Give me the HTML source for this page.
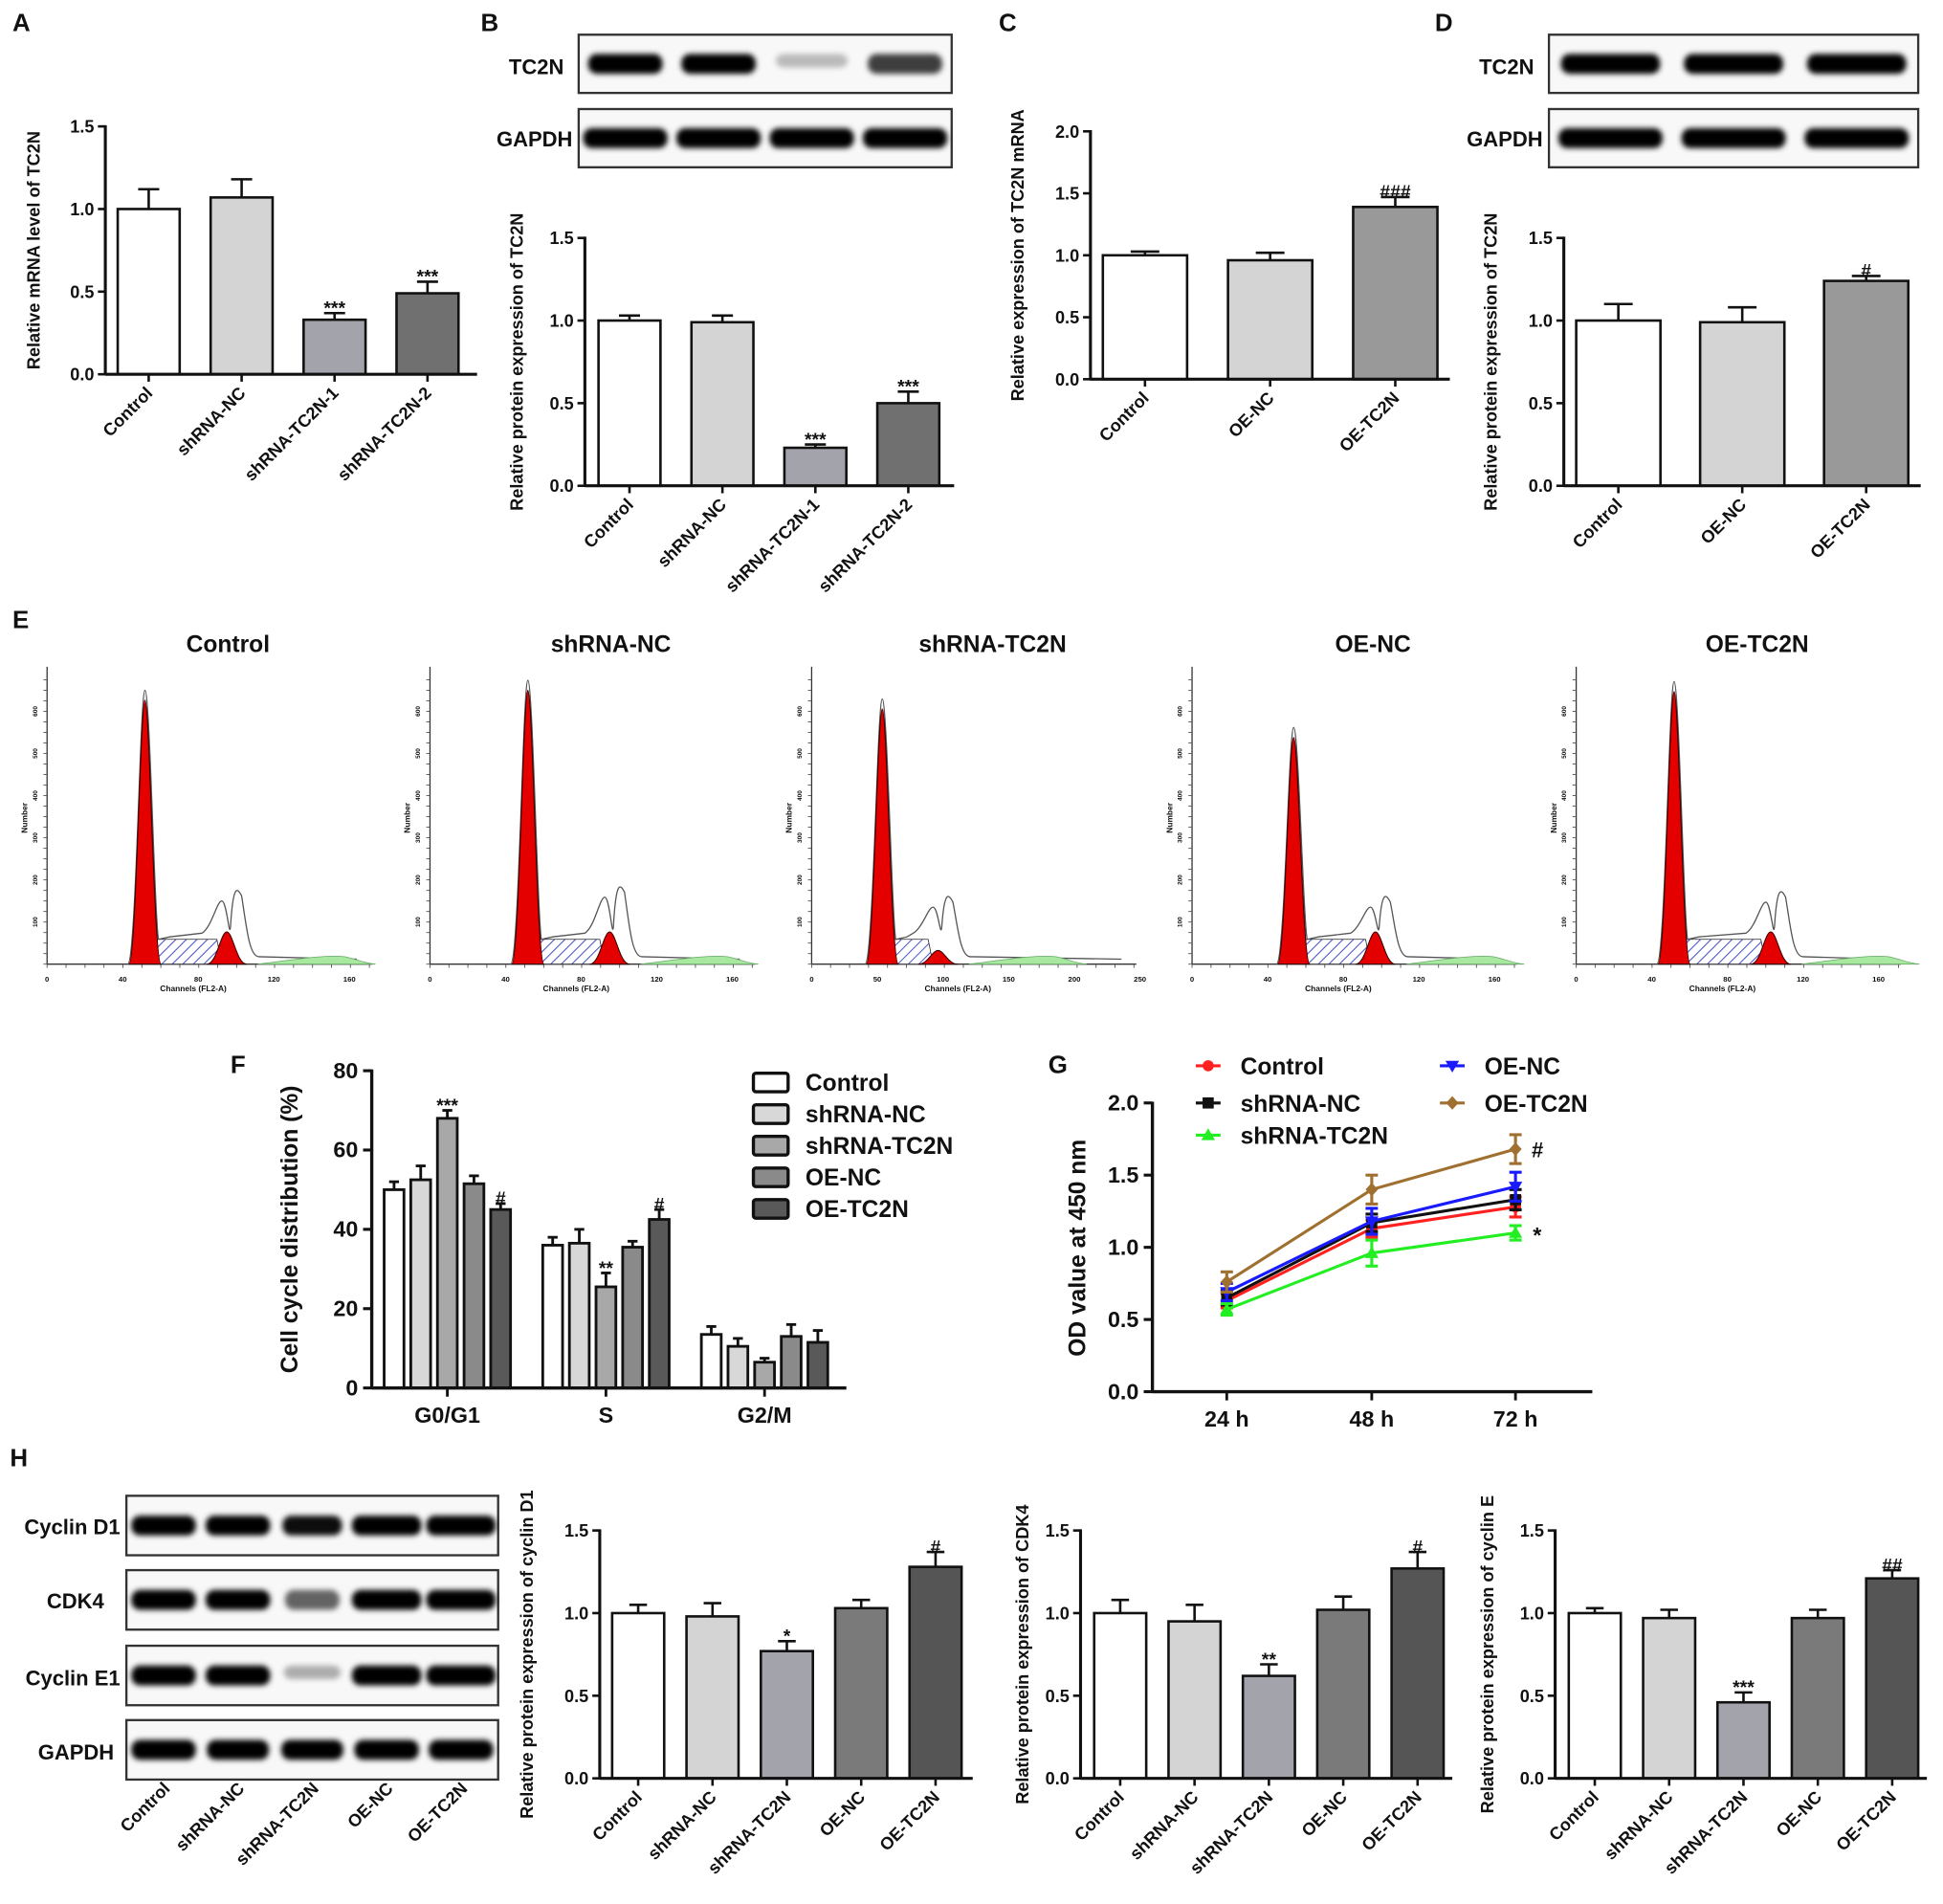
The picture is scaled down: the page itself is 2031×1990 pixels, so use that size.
<!DOCTYPE html>
<html><head><meta charset="utf-8">
<style>
html,body{margin:0;padding:0;background:#fff;}
svg{display:block;}
text{font-family:"Liberation Sans",Arial,sans-serif;font-weight:bold;fill:#111;}
</style></head>
<body>
<svg id="fig" xmlns="http://www.w3.org/2000/svg" width="2031" height="1990" viewBox="0 0 1568 1536.4" preserveAspectRatio="none">
<defs>
<filter id="blur" x="-20%" y="-50%" width="140%" height="200%"><feGaussianBlur stdDeviation="2.2"/></filter>
<pattern id="hatch" width="6" height="6" patternUnits="userSpaceOnUse" patternTransform="rotate(45)">
<rect width="6" height="6" fill="#fff"/><line x1="0" y1="0" x2="0" y2="6" stroke="#4a55c8" stroke-width="1.6"/></pattern>
</defs>
</svg>
<script>
// ---------- data ----------
const catsA = ["Control","shRNA-NC","shRNA-TC2N-1","shRNA-TC2N-2"];
const valsA = [1.0,1.07,0.33,0.49];
const errA = [0.12,0.11,0.04,0.07];
const marksA = ["","","***","***"];
const valsB = [1.0,0.99,0.23,0.50];
const errB = [0.03,0.04,0.02,0.07];
const marksB = ["","","***","***"];
const catsC = ["Control","OE-NC","OE-TC2N"];
const valsC = [1.0,0.96,1.39];
const errC = [0.03,0.06,0.08];
const marksC = ["","","###"];
const valsD = [1.0,0.99,1.24];
const errD = [0.10,0.09,0.03];
const marksD = ["","","#"];
const catsH = ["Control","shRNA-NC","shRNA-TC2N","OE-NC","OE-TC2N"];
const valsH1 = [1.0,0.98,0.77,1.03,1.28];
const errH1 = [0.05,0.08,0.06,0.05,0.09];
const marksH1 = ["","","*","","#"];
const valsH2 = [1.0,0.95,0.62,1.02,1.27];
const errH2 = [0.08,0.10,0.07,0.08,0.10];
const marksH2 = ["","","**","","#"];
const valsH3 = [1.0,0.97,0.46,0.97,1.21];
const errH3 = [0.03,0.05,0.06,0.05,0.05];
const marksH3 = ["","","***","","##"];
const ticks15 = [0,0.5,1.0,1.5];
const ticks20 = [0,0.5,1.0,1.5,2.0];
// F
const phasesF = ["G0/G1","S","G2/M"];
const groupsF = ["Control","shRNA-NC","shRNA-TC2N","OE-NC","OE-TC2N"];
const valsF = [[50,52.5,68,51.5,45],[36,36.5,25.5,35.5,42.5],[13.5,10.5,6.5,13,11.5]];
const errF = [[2,3.5,2,2,1.5],[2,3.5,3.5,1.5,2.5],[2,2,1,3,3]];
const marksF = [["","","***","","#"],["","","**","","#"],["","","","",""]];
const ticksF = [0,20,40,60,80];
// G
const timesG = ["24 h","48 h","72 h"];
const seriesG = ["Control","shRNA-NC","shRNA-TC2N","OE-NC","OE-TC2N"];
const valsG = [[0.63,1.13,1.28],[0.65,1.17,1.33],[0.57,0.96,1.10],[0.69,1.18,1.42],[0.76,1.40,1.68]];
const errG = [[0.05,0.06,0.07],[0.05,0.06,0.07],[0.04,0.09,0.05],[0.06,0.09,0.10],[0.07,0.10,0.10]];
// E
const flowTitles = ["Control","shRNA-NC","shRNA-TC2N","OE-NC","OE-TC2N"];

// ---------- helpers ----------
const NS="http://www.w3.org/2000/svg";
const svg=document.getElementById('fig');
function el(tag,attrs,parent,txt){const e=document.createElementNS(NS,tag);for(const k in attrs)e.setAttribute(k,attrs[k]);if(txt!==undefined)e.textContent=txt;(parent||svg).appendChild(e);return e;}
function grp(name,parent){const g=el('g',{},parent);return g;}
const barFills=["#ffffff","#d4d4d4","#a3a3ab","#7a7a7a","#555555"];

function panelLetter(t,x,y){const e=el('text',{x:x,y:y,'font-size':20},svg,t);

}

function barChart(name,o,cats,vals,errs,marks,ticks,fills){
  const g=grp(name);
  const ys=v=>o.y0-(v/o.max)*(o.y0-o.yTop);
  const xs=i=>o.first+i*o.step;
  ticks.forEach(t=>{
    el('line',{x1:o.ax-6,x2:o.ax,y1:ys(t),y2:ys(t),stroke:'#111','stroke-width':2},g);
    const tl=el('text',{x:o.ax-9,y:ys(t)+5,'font-size':o.fs||14,'text-anchor':'end'},g,t.toFixed(1));
    
    
  });
  vals.forEach((v,i)=>{
    const x=xs(i),cx=x+o.w/2;
    const top=ys(v+errs[i]);
    el('line',{x1:cx,x2:cx,y1:ys(v),y2:top,stroke:'#111','stroke-width':2},g);
    el('line',{x1:cx-o.w*0.17,x2:cx+o.w*0.17,y1:top,y2:top,stroke:'#111','stroke-width':2},g);
    const r=el('rect',{x:x,y:ys(v),width:o.w,height:o.y0-ys(v),fill:fills[i],stroke:'#111','stroke-width':2},g);
    
    
    if(marks[i]){const m=el('text',{x:cx,y:top+1,'font-size':15,'text-anchor':'middle','font-weight':'normal'},g,marks[i]);
      
      }
    el('line',{x1:cx,x2:cx,y1:o.y0,y2:o.y0+6,stroke:'#111','stroke-width':2},g);
    const ly=o.y0+16;
    const cl=el('text',{x:cx+4,y:ly,'font-size':o.fs||14,'text-anchor':'end',transform:`rotate(-45 ${cx+4} ${ly})`},g,cats[i]);
    
    
  });
  el('line',{x1:o.ax,x2:o.ax,y1:o.yTop-1,y2:o.y0+1,stroke:'#111','stroke-width':2.4},g);
  el('line',{x1:o.ax,x2:o.xEnd,y1:o.y0,y2:o.y0,stroke:'#111','stroke-width':2.4},g);
  const mid=(o.yTop+o.y0)/2+(o.tOff||0);
  const tt=el('text',{x:o.tx,y:mid,'font-size':14,'text-anchor':'middle',transform:`rotate(-90 ${o.tx} ${mid})`},g,o.title);
  
  
}

function blot(name,x,y,w,h,lanes,intens,widths){
  const g=grp(name);
  el('rect',{x:x,y:y,width:w,height:h,fill:'#f8f8f8',stroke:'#333','stroke-width':1.8},g);
  const lw=w/lanes;
  for(let i=0;i<lanes;i++){
    const cx=x+lw*(i+0.5);
    const a=intens[i];
    el('rect',{x:cx-widths[i]/2,y:y+h/2-8,width:widths[i],height:a>0.5?16:11,rx:7,fill:`rgba(0,0,0,${a})`,filter:'url(#blur)'},g);
  }
}
function blotLabel(t,x,y,anchor){const e=el('text',{x:x,y:y,'font-size':17,'text-anchor':anchor||'end'},svg,t);

}

panelLetter('A',10,25);panelLetter('B',388,25);panelLetter('C',806,25);panelLetter('D',1158,25);
panelLetter('E',10,507);panelLetter('F',186,866);panelLetter('G',846,866);panelLetter('H',8,1183);

// ---------- A ----------
barChart('chart-a',{ax:85,y0:302,yTop:102,max:1.5,first:95,step:75,w:50,xEnd:385,tx:32,title:'Relative mRNA level of TC2N'},catsA,valsA,errA,marksA,ticks15,["#fff","#d4d4d4","#a3a3ab","#707070"]);
// ---------- B ----------
blotLabel('TC2N',455,60);blotLabel('GAPDH',462,118);
blot('blot-b-tc2n',467,28,301,47,4,[1,1,0.25,0.75],[60,60,58,60]);
blot('blot-b-gapdh',467,88,301,47,4,[1,1,1,1],[68,68,68,68]);
barChart('chart-b',{ax:472,y0:392,yTop:192,max:1.5,first:483,step:75,w:50,xEnd:770,tx:422,title:'Relative protein expression of TC2N'},catsA,valsB,errB,marksB,ticks15,["#fff","#d4d4d4","#a3a3ab","#707070"]);
// ---------- C ----------
barChart('chart-c',{ax:880,y0:306,yTop:106,max:2.0,first:890,step:101,w:68,xEnd:1170,tx:826,title:'Relative expression of TC2N mRNA'},catsC,valsC,errC,marksC,ticks20,["#fff","#d4d4d4","#999"]);
// ---------- D ----------
blotLabel('TC2N',1238,60);blotLabel('GAPDH',1245,118);
blot('blot-d-tc2n',1250,28,298,47,3,[1,1,1],[80,80,80]);
blot('blot-d-gapdh',1250,88,298,47,3,[1,1,1],[84,84,84]);
barChart('chart-d',{ax:1262,y0:392,yTop:192,max:1.5,first:1272,step:100,w:68,xEnd:1550,tx:1208,title:'Relative protein expression of TC2N'},catsC,valsD,errD,marksD,ticks15,["#fff","#d4d4d4","#999"]);

// ---------- E flow histograms ----------
const flowAx=[38,347,655,962,1272];
const g1off=[79,79,57,82,79];
const g1top=[565,557,572,595,558];
const g2off=[145,145,102,148,157];
const g2top=[752,752,767,752,752];
const outTop=[715,712,720,720,716];
flowTitles.forEach((t,k)=>{
  const g=grp('flow-histogram-'+t.toLowerCase());
  const x0=flowAx[k],yb=778;
  const tt=el('text',{x:x0+146,y:526,'font-size':19,'text-anchor':'middle'},g,t);
  
  
  el('line',{x1:x0,x2:x0,y1:538,y2:yb,stroke:'#333','stroke-width':1},g);
  el('line',{x1:x0,x2:x0+262,y1:yb,y2:yb,stroke:'#333','stroke-width':1},g);
  for(let y=yb;y>540;y-=8.5)el('line',{x1:x0-3,x2:x0,y1:y,y2:y,stroke:'#555','stroke-width':0.7},g);
  for(let x=x0;x<x0+262;x+=15.3)el('line',{x1:x,x2:x,y1:yb,y2:yb+3,stroke:'#555','stroke-width':0.7},g);
  const xl = k===2?["0","50","100","150","200","250"]:["0","40","80","120","160"];
  const xstep = k===2?53:61;
  xl.forEach((s,i)=>el('text',{x:x0+i*xstep,y:yb+14,'font-size':6,'font-weight':'normal','text-anchor':'middle',fill:'#444'},g,s));
  el('text',{x:x0+118,y:yb+22,'font-size':6.5,'font-weight':'normal','text-anchor':'middle',fill:'#333'},g,'Channels (FL2-A)');
  el('text',{x:x0-16,y:660,'font-size':6.5,'font-weight':'normal','text-anchor':'middle',transform:`rotate(-90 ${x0-16} 660)`,fill:'#333'},g,'Number');
  for(let i=1;i<=6;i++)el('text',{x:x0-8,y:yb-i*34,'font-size':5,'font-weight':'normal','text-anchor':'middle',transform:`rotate(-90 ${x0-8} ${yb-i*34})`,fill:'#555'},g,String(i*100));
  const c1=x0+g1off[k],c2=x0+g2off[k];
  const sTop=758;
  el('path',{d:`M${c1+5},${yb} L${c1+10},${sTop} L${c2-8},${sTop} L${c2-4},${yb} Z`,fill:'url(#hatch)',stroke:'#222','stroke-width':0.6},g);
  el('path',{d:`M${c1-14},${yb} C${c1-7},${yb} ${c1-4},${g1top[k]-8} ${c1},${g1top[k]-8} C${c1+4},${g1top[k]-8} ${c1+8},${yb-25} ${c1+11},${yb-20} L${c1+20},${yb-22} L${c2-20},${yb-25} C${c2-12},${yb-30} ${c2-8},${outTop[k]+12} ${c2-4},${outTop[k]+12} C${c2},${outTop[k]+12} ${c2+2},${yb-20} ${c2+3},${yb-30} C${c2+5},${outTop[k]} ${c2+8},${outTop[k]} ${c2+12},${outTop[k]+8} C${c2+16},${yb-30} ${c2+18},${yb-6} ${c2+26},${yb-6} L${x0+250},${yb-4}`,fill:'none',stroke:'#555','stroke-width':1},g);
  el('path',{d:`M${c1-13},${yb} C${c1-7},${yb} ${c1-4},${g1top[k]} ${c1},${g1top[k]} C${c1+4},${g1top[k]} ${c1+7},${yb} ${c1+13},${yb} Z`,fill:'#e50000',stroke:'#300','stroke-width':0.8},g);
  el('path',{d:`M${c2-16},${yb} C${c2-8},${yb} ${c2-5},${g2top[k]} ${c2},${g2top[k]} C${c2+5},${g2top[k]} ${c2+8},${yb} ${c2+16},${yb} Z`,fill:'#e50000',stroke:'#300','stroke-width':0.8},g);
  el('path',{d:`M${c2+25},${yb} C${c2+50},${yb-3} ${c2+80},${yb-8} ${c2+95},${yb-6} C${c2+105},${yb-4} ${c2+110},${yb-1} ${c2+120},${yb} Z`,fill:'#a8e8a0',stroke:'#6a6','stroke-width':0.6},g);
});

// ---------- F ----------
(function(){
  const g=grp('chart-f');
  const ax=300,y0=1120,yTop=864,max=80;
  const ys=v=>y0-(v/max)*(y0-yTop);
  const groupStart=[310,438,566],bw=16,bstep=21.5;
  const fills=["#ffffff","#d8d8d8","#a8a8a8","#8a8a8a","#595959"];
  ticksF.forEach(t=>{
    el('line',{x1:ax-7,x2:ax,y1:ys(t),y2:ys(t),stroke:'#111','stroke-width':2.4},g);
    const l=el('text',{x:ax-11,y:ys(t)+6,'font-size':18,'text-anchor':'end'},g,String(t));
    
    
  });
  phasesF.forEach((p,pi)=>{
    valsF[pi].forEach((v,i)=>{
      const x=groupStart[pi]+i*bstep,cx=x+bw/2,top=ys(v+errF[pi][i]);
      el('line',{x1:cx,x2:cx,y1:ys(v),y2:top,stroke:'#111','stroke-width':2.2},g);
      el('line',{x1:cx-4,x2:cx+4,y1:top,y2:top,stroke:'#111','stroke-width':2.2},g);
      const r=el('rect',{x:x,y:ys(v),width:bw,height:y0-ys(v),fill:fills[i],stroke:'#111','stroke-width':2.2},g);
      
      
      if(marksF[pi][i]){const m=el('text',{x:cx,y:top+1,'font-size':15,'text-anchor':'middle','font-weight':'normal'},g,marksF[pi][i]);
        
        }
    });
    const cx=groupStart[pi]+2*bstep+bw/2;
    el('line',{x1:cx,x2:cx,y1:y0,y2:y0+7,stroke:'#111','stroke-width':2.2},g);
    const l=el('text',{x:cx,y:y0+28,'font-size':18,'text-anchor':'middle'},g,p);
    
    
  });
  el('line',{x1:ax,x2:ax,y1:yTop-1,y2:y0+1,stroke:'#111','stroke-width':2.6},g);
  el('line',{x1:ax,x2:683,y1:y0,y2:y0,stroke:'#111','stroke-width':2.6},g);
  const t=el('text',{x:240,y:992,'font-size':19,'text-anchor':'middle',transform:'rotate(-90 240 992)'},g,'Cell cycle distribution (%)');
  
  
  groupsF.forEach((s,i)=>{
    const lg=grp('legend-entry-'+s.toLowerCase(),g);
    const y=866+i*25.5;
    el('rect',{x:608,y:y,width:28,height:15,rx:2,fill:fills[i],stroke:'#111','stroke-width':2.6},lg);
    el('text',{x:650,y:y+14,'font-size':19},lg,s);
  });
})();

// ---------- G ----------
function marker(shape,x,y,c,parent){
  if(shape==='circle')return el('circle',{cx:x,cy:y,r:4.5,fill:c},parent);
  if(shape==='square')return el('rect',{x:x-4.5,y:y-4.5,width:9,height:9,fill:c},parent);
  if(shape==='up')return el('path',{d:`M${x},${y-5.5} L${x+5.5},${y+4} L${x-5.5},${y+4} Z`,fill:c},parent);
  if(shape==='down')return el('path',{d:`M${x},${y+5.5} L${x+5.5},${y-4} L${x-5.5},${y-4} Z`,fill:c},parent);
  return el('path',{d:`M${x},${y-5.5} L${x+5},${y} L${x},${y+5.5} L${x-5},${y} Z`,fill:c},parent);
}
(function(){
  const g=grp('chart-g');
  const ax=930,y0=1123,yTop=890,max=2.0;
  const ys=v=>y0-(v/max)*(y0-yTop);
  const xPos=[990,1107,1223];
  const colors=["#ff2020","#111111","#22ee22","#1a1aff","#a07030"];
  const shapes=["circle","square","up","down","diamond"];
  ticks20.forEach(t=>{
    el('line',{x1:ax-7,x2:ax,y1:ys(t),y2:ys(t),stroke:'#111','stroke-width':2.4},g);
    const l=el('text',{x:ax-11,y:ys(t)+6,'font-size':18,'text-anchor':'end'},g,t.toFixed(1));
    
    
  });
  timesG.forEach((t,i)=>{
    el('line',{x1:xPos[i],x2:xPos[i],y1:y0,y2:y0+7,stroke:'#111','stroke-width':2.2},g);
    const l=el('text',{x:xPos[i],y:y0+28,'font-size':18,'text-anchor':'middle'},g,t);
    
    
  });
  el('line',{x1:ax,x2:ax,y1:yTop-1,y2:y0+1,stroke:'#111','stroke-width':2.6},g);
  el('line',{x1:ax,x2:1285,y1:y0,y2:y0,stroke:'#111','stroke-width':2.6},g);
  seriesG.forEach((s,si)=>{
    const sg=grp('series-'+s.toLowerCase(),g);
    const pts=valsG[si].map((v,i)=>xPos[i]+','+ys(v)).join(' ');
    el('polyline',{points:pts,fill:'none',stroke:colors[si],'stroke-width':2.4},sg);
    valsG[si].forEach((v,i)=>{
      const e=errG[si][i];
      el('line',{x1:xPos[i],x2:xPos[i],y1:ys(v-e),y2:ys(v+e),stroke:colors[si],'stroke-width':2.4},sg);
      el('line',{x1:xPos[i]-5,x2:xPos[i]+5,y1:ys(v+e),y2:ys(v+e),stroke:colors[si],'stroke-width':2.4},sg);
      el('line',{x1:xPos[i]-5,x2:xPos[i]+5,y1:ys(v-e),y2:ys(v-e),stroke:colors[si],'stroke-width':2.4},sg);
      const p=marker(shapes[si],xPos[i],ys(v),colors[si],sg);
      
      
    });
  });
  el('text',{x:1236,y:934,'font-size':17},g,'#');
  el('text',{x:1237,y:1003,'font-size':18},g,'*');
  const lp=[[975,860],[975,890],[975,916],[1172,860],[1172,890]];
  seriesG.forEach((s,i)=>{
    const lg=grp('legend-entry-'+s.toLowerCase(),g);
    const [x,y]=lp[i];
    el('line',{x1:x-10,x2:x+10,y1:y,y2:y,stroke:colors[i],'stroke-width':2.4},lg);
    marker(shapes[i],x,y,colors[i],lg);
    el('text',{x:x+26,y:y+7,'font-size':19},lg,s);
  });
  const t=el('text',{x:876,y:1007,'font-size':19,'text-anchor':'middle',transform:'rotate(-90 876 1007)'},g,'OD value at 450 nm');
  
  
})();

// ---------- H ----------
blotLabel('Cyclin D1',97,1238);blotLabel('CDK4',84,1298);blotLabel('Cyclin E1',97,1360);blotLabel('GAPDH',92,1420);
blot('blot-h-cyclind1',102,1207,300,48,5,[1,1,0.95,1,1],[52,52,48,56,56]);
blot('blot-h-cdk4',102,1267,300,48,5,[1,1,0.6,1,1],[52,52,44,56,56]);
blot('blot-h-cycline1',102,1328,300,48,5,[1,1,0.3,1,1],[52,52,46,56,56]);
blot('blot-h-gapdh',102,1388,300,48,5,[1,1,1,1,1],[52,50,50,52,52]);
(function(){
  const ty=1390;
  catsH.forEach((c,i)=>{
    const cx=132+i*60;
    const l=el('text',{x:cx+6,y:ty+54,'font-size':14,'text-anchor':'end',transform:`rotate(-45 ${cx+6} ${ty+54})`},svg,c);
    
    
  });
})();
const fillsH=["#fff","#d4d4d4","#a3a3ab","#7a7a7a","#555"];
barChart('chart-h-cyclind1',{ax:484,y0:1435,yTop:1235,max:1.5,first:494,step:60,w:42,xEnd:785,tx:430,title:'Relative protein expression of cyclin D1'},catsH,valsH1,errH1,marksH1,ticks15,fillsH);
barChart('chart-h-cdk4',{ax:872,y0:1435,yTop:1235,max:1.5,first:883,step:60,w:42,xEnd:1172,tx:830,title:'Relative protein expression of CDK4'},catsH,valsH2,errH2,marksH2,ticks15,fillsH);
barChart('chart-h-cycline',{ax:1255,y0:1435,yTop:1235,max:1.5,first:1266,step:60,w:42,xEnd:1555,tx:1205,title:'Relative protein expression of cyclin E'},catsH,valsH3,errH3,marksH3,ticks15,fillsH);
</script>
</body></html>
